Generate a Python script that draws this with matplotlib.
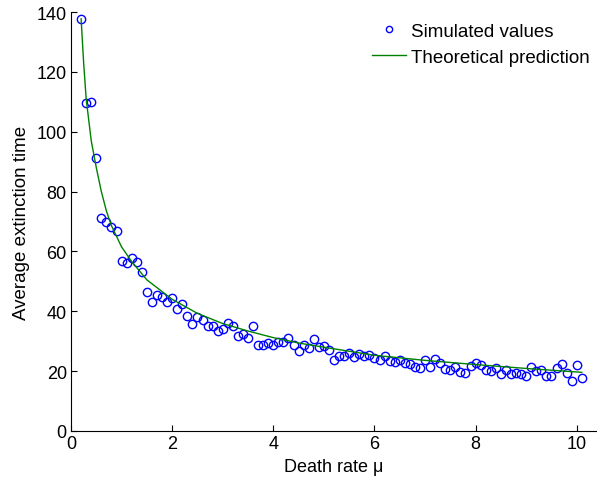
import numpy as np
import matplotlib
matplotlib.use("Agg")
import matplotlib.pyplot as plt

plt.rcParams['font.family'] = ['Liberation Sans', 'DejaVu Sans']

# simulated points, death rate 0.2 .. 10.1 step 0.1
mu_sim = np.round(np.arange(2, 102) / 10.0, 1)
t_sim = [137.7, 109.6, 109.8, 91.2, 71.1, 69.7, 68.3, 66.9, 56.9, 56.1,
         57.8, 56.5, 53.2, 46.4, 43.2, 45.3, 44.7, 43.0, 44.3, 40.7,
         42.3, 38.4, 35.7, 38.2, 37.0, 35.2, 35.2, 33.3, 34.1, 36.2,
         35.2, 31.6, 32.4, 31.1, 35.1, 28.7, 28.9, 29.4, 28.9, 29.7,
         29.8, 31.2, 28.7, 26.7, 28.8, 27.6, 30.7, 28.2, 28.5, 27.1,
         23.8, 25.0, 25.2, 26.0, 24.8, 25.7, 25.0, 25.5, 24.3, 23.8,
         25.2, 23.3, 22.9, 23.8, 22.6, 22.4, 21.5, 21.2, 23.8, 21.5,
         24.1, 22.6, 20.7, 20.4, 21.4, 19.8, 19.4, 21.8, 22.7, 22.2,
         20.5, 19.9, 20.9, 18.9, 20.4, 18.9, 19.4, 18.9, 18.5, 21.4,
         19.9, 20.5, 18.5, 18.5, 21.2, 22.3, 19.4, 16.8, 22.1, 17.8]

# theoretical curve
mu_th = [0.2, 0.25, 0.3, 0.4, 0.5, 0.6, 0.7, 0.8, 1.0, 1.2, 1.5, 2.0,
         2.5, 3.0, 3.5, 4.0, 4.5, 5.0, 6.0, 7.0, 8.0, 9.0, 10.1]
t_th = [137.7, 123.0, 111.0, 97.0, 88.0, 80.0, 73.5, 68.6, 61.5, 56.6,
        50.5, 44.0, 39.3, 35.9, 33.4, 31.2, 29.4, 28.0, 25.3, 23.6,
        22.2, 20.9, 19.6]

fig = plt.figure(figsize=(5.97, 4.81), dpi=100)
ax = fig.add_axes([71 / 597, 49 / 481, 1 - 71 / 597, 419 / 481])

ax.plot(mu_sim, t_sim, 'o', mfc='none', mec='#0000ff', ms=6.0, mew=1.0,
        label='Simulated values')
ax.plot(mu_th, t_th, '-', color='#008000', lw=1.0,
        label='Theoretical prediction')

ax.set_xlim(0, 10.4)
ax.set_ylim(0, 140)
ax.set_xticks([0, 2, 4, 6, 8, 10])
ax.set_yticks(np.arange(0, 141, 20))
ax.tick_params(direction='in', length=4, width=0.8, labelsize=13, pad=3)
for s in ['top', 'right']:
    ax.spines[s].set_visible(False)
for s in ['left', 'bottom']:
    ax.spines[s].set_linewidth(0.8)

ax.set_xlabel('Death rate μ', fontsize=13, labelpad=4)
ax.set_ylabel('Average extinction time', fontsize=13.5, labelpad=5)

ax.legend(loc='upper right', frameon=False, fontsize=13.5, handlelength=1.8,
          handletextpad=0.27, borderaxespad=0, labelspacing=0.47,
          markerscale=0.75,
          bbox_to_anchor=(1.0, 465 / 481), bbox_transform=fig.transFigure)

fig.savefig('out.png', dpi=100)
